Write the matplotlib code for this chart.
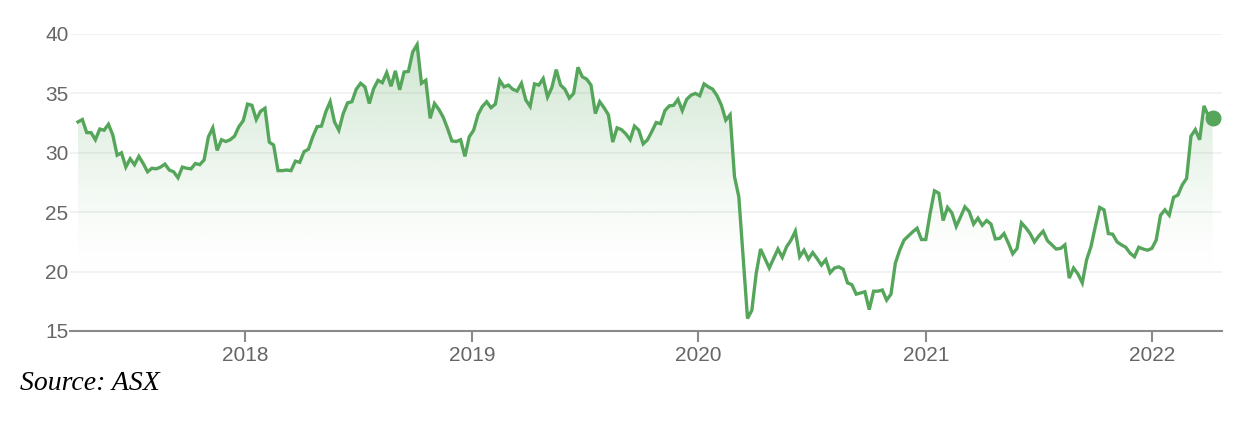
import numpy as np
import pandas as pd
import matplotlib
matplotlib.use("Agg")
import matplotlib.pyplot as plt
import matplotlib.dates as mdates
from matplotlib.patches import Polygon

# Weekly closing prices
prices = [
    32.6, 32.8, 31.7, 31.7, 31.1, 32.0, 31.9, 32.4, 31.5, 29.8,
    30.0, 28.8, 29.5, 29.0, 29.7, 29.1, 28.4, 28.7, 28.65, 28.8,
    29.05, 28.55, 28.4, 27.9, 28.8, 28.7, 28.65, 29.1, 29.0, 29.4,
    31.35, 32.1, 30.2, 31.1, 30.95, 31.1, 31.4, 32.2,
    32.7, 34.1, 34.0, 32.8, 33.5, 33.75, 30.9, 30.65, 28.5, 28.5,
    28.55, 28.5, 29.3, 29.2, 30.1, 30.3, 31.35, 32.2, 32.25, 33.45,
    34.3, 32.6, 31.9, 33.3, 34.2, 34.3, 35.35, 35.85, 35.55, 34.15,
    35.4, 36.1, 35.9, 36.75, 35.6, 36.9, 35.3,
    36.8, 36.85, 38.5, 39.1, 35.85, 36.1, 32.9, 34.15, 33.65, 33.0,
    32.05, 31.0, 30.95, 31.1, 29.7, 31.35, 31.9, 33.2, 33.9, 34.3,
    33.8, 34.1, 36.1, 35.55, 35.7, 35.35, 35.2, 35.85, 34.45, 33.9,
    35.8, 35.7, 36.25, 34.7, 35.5, 37.0, 35.7,
    35.35, 34.6, 35.0, 37.2, 36.4, 36.2, 35.7, 33.3, 34.3, 33.8,
    33.2, 30.9, 32.1, 31.95, 31.6, 31.1, 32.25, 31.9, 30.75, 31.1,
    31.8, 32.55, 32.45, 33.55, 33.95, 34.0, 34.5, 33.55, 34.5, 34.85,
    35.0, 34.8, 35.8, 35.55, 35.35, 34.8, 34.0, 32.75, 33.2,
    28.0, 26.3, 21.2, 16.05, 16.75, 19.85, 21.9, 21.1, 20.3, 21.1,
    21.9, 21.2, 22.1, 22.65, 23.4, 21.25, 21.8, 21.05, 21.6, 21.1,
    20.55, 21.0, 19.9, 20.3, 20.4, 20.2, 19.05, 18.9, 18.1, 18.2,
    18.3, 16.8, 18.35, 18.35, 18.45, 17.6, 18.1,
    20.7, 21.8, 22.65, 23.0, 23.35, 23.65, 22.7, 22.7, 24.9, 26.8,
    26.6, 24.3, 25.4, 24.95, 23.8, 24.6, 25.45, 25.05, 24.0, 24.5,
    23.9, 24.3, 24.0, 22.75, 22.8, 23.2, 22.4, 21.5, 21.95, 24.1,
    23.7, 23.2, 22.5,
    23.0, 23.4, 22.6, 22.25, 21.9, 21.95, 22.25, 19.45, 20.3, 19.8,
    19.05, 21.0, 22.1, 23.8, 25.4, 25.2, 23.2, 23.15, 22.5, 22.25,
    22.05, 21.55, 21.25, 22.05, 21.9, 21.8, 21.95, 22.65, 24.75, 25.2,
    24.75, 26.25, 26.45, 27.3, 27.85, 31.4, 31.95, 31.1, 33.95, 33.1,
    32.95,
]
start_date = "2017-04-07"
dates = pd.date_range(start=start_date, periods=len(prices), freq="7D")

y_ticks = [15, 20, 25, 30, 35, 40]
x_tick_years = [2018, 2019, 2020, 2021, 2022]
source_text = "Source: ASX"

line_color = "#55a65b"

fig = plt.figure(figsize=(12.5, 4.22), dpi=100)
ax = fig.add_axes([70 / 1250, 1 - 331 / 422, (1222 - 70) / 1250, (331 - 34) / 422])

x = mdates.date2num(dates)
y = np.array(prices)

# gradient fill under the line
ymin, ymax = 15, 40
grad = np.linspace(0, 1, 256)
rgba = np.zeros((256, 1, 4))
rgba[..., 0] = 0x55 / 255
rgba[..., 1] = 0xa6 / 255
rgba[..., 2] = 0x5b / 255
rgba[:, 0, 3] = np.clip((grad - 0.2) / 0.8, 0, 1) ** 1.3 * 0.30
im = ax.imshow(rgba, extent=[x[0], x[-1], ymin, ymax], origin="lower",
               aspect="auto", zorder=1, interpolation="bilinear")
verts = np.column_stack([np.r_[x[0], x, x[-1]], np.r_[ymin, y, ymin]])
poly = Polygon(verts, closed=True, facecolor="none", edgecolor="none")
ax.add_patch(poly)
im.set_clip_path(poly)

ax.plot(x, y, color=line_color, lw=2.4, solid_joinstyle="miter", zorder=3)
ax.plot([x[-1]], [y[-1]], "o", color=line_color, ms=10.5, zorder=4)

pad = (x[-1] - x[0]) * (8 / 1134)
ax.set_xlim(x[0] - pad, x[0] + (x[-1] - x[0]) * (1222 - 78.3) / (1212.7 - 78.3))
ax.set_ylim(ymin, ymax)

ax.set_yticks(y_ticks)
ax.set_yticklabels([str(t) for t in y_ticks])
ax.set_xticks([mdates.date2num(pd.Timestamp(f"{yr}-01-01")) for yr in x_tick_years])
ax.set_xticklabels([str(yr) for yr in x_tick_years])

ax.grid(axis="y", color="#f0f0f0", lw=1.2, zorder=0)
ax.set_axisbelow(True)
for s in ["top", "right", "left"]:
    ax.spines[s].set_visible(False)
ax.spines["bottom"].set_color("#8a8a8a")
ax.spines["bottom"].set_linewidth(1.5)
ax.tick_params(axis="y", length=0, pad=1, labelsize=15, labelcolor="#666666")
ax.tick_params(axis="x", length=8, width=1.5, color="#8a8a8a", pad=3,
               labelsize=15, labelcolor="#666666")
for lab in ax.get_xticklabels() + ax.get_yticklabels():
    lab.set_fontfamily("Liberation Sans")

fig.text(20 / 1250, 1 - 383 / 422, source_text, fontsize=20, style="italic",
         family="Liberation Serif", color="black", va="center", ha="left")

fig.savefig("out.png", dpi=100, facecolor="white")
